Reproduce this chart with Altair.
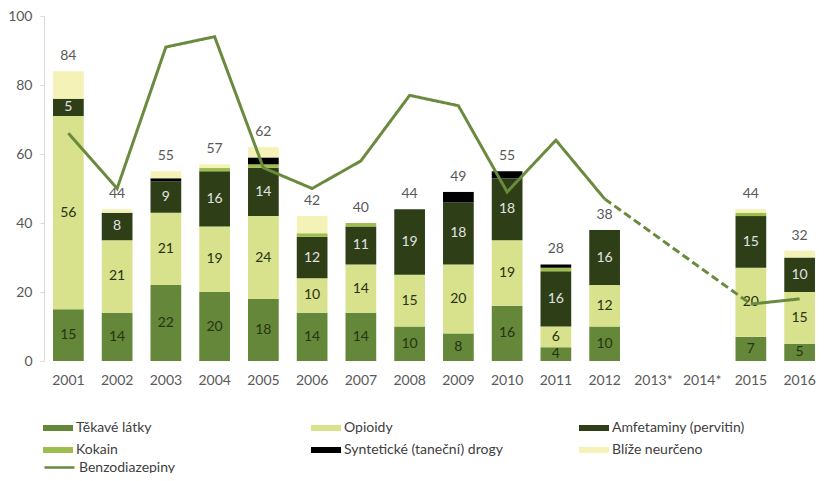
import altair as alt
import pandas as pd

years = ["2001", "2002", "2003", "2004", "2005", "2006", "2007", "2008",
         "2009", "2010", "2011", "2012", "2013*", "2014*", "2015", "2016"]

series = ["Těkavé látky", "Opioidy", "Amfetaminy (pervitin)", "Kokain",
          "Syntetické (taneční) drogy", "Blíže neurčeno"]
line_name = "Benzodiazepiny"

tekave = [15, 14, 22, 20, 18, 14, 14, 10, 8, 16, 4, 10, 0, 0, 7, 5]
opioidy = [56, 21, 21, 19, 24, 10, 14, 15, 20, 19, 6, 12, 0, 0, 20, 15]
amfetaminy = [5, 8, 9, 16, 14, 12, 11, 19, 18, 18, 16, 16, 0, 0, 15, 10]
kokain = [0, 0, 0, 1, 1, 1, 1, 0, 0, 0, 1, 0, 0, 0, 1, 0]
synteticke = [0, 0, 1, 0, 2, 0, 0, 0, 3, 2, 1, 0, 0, 0, 0, 0]
blize = [8, 1, 2, 1, 3, 5, 0, 0, 0, 0, 0, 0, 0, 0, 1, 2]
totals = [84, 44, 55, 57, 62, 42, 40, 44, 49, 55, 28, 38, None, None, 44, 32]

benzo_years_a = ["2001", "2002", "2003", "2004", "2005", "2006", "2007",
                 "2008", "2009", "2010", "2011", "2012"]
benzo_a = [66, 50, 91, 94, 56, 50, 58, 77, 74, 49, 64, 47]
benzo_years_b = ["2015", "2016"]
benzo_b = [16.5, 18]

bar_colors = ["#64873a", "#d8e18c", "#2e3f17", "#9dbd4c", "#000000", "#f4f2b6"]
line_color = "#6a8a3e"

# ---- build tables ----
rows = []
for s_i, (name, vals) in enumerate(zip(series, [tekave, opioidy, amfetaminy, kokain, synteticke, blize])):
    for y, v in zip(years, vals):
        if v > 0:
            rows.append({"year": y, "series": name, "value": v, "order": s_i})
bars_df = pd.DataFrame(rows)

tot_df = pd.DataFrame([{"year": y, "total": t} for y, t in zip(years, totals) if t is not None])

line_rows = []
for y, v in zip(benzo_years_a, benzo_a):
    line_rows.append({"year": y, "value": v, "seg": "a", "dash": "solid", "series": line_name})
line_rows.append({"year": benzo_years_a[-1], "value": benzo_a[-1], "seg": "b", "dash": "dashed", "series": line_name})
line_rows.append({"year": benzo_years_b[0], "value": benzo_b[0], "seg": "b", "dash": "dashed", "series": line_name})
for y, v in zip(benzo_years_b, benzo_b):
    line_rows.append({"year": y, "value": v, "seg": "c", "dash": "solid", "series": line_name})
line_df = pd.DataFrame(line_rows)

FONT = "Lato"
ROW0 = 397
ROWSTEP = 19

bar_legend = alt.Legend(
    title=None, orient="none", legendX=-1, legendY=ROW0, columns=3,
    direction="horizontal",
    gridAlign="all", columnPadding=76, rowPadding=-5.5, padding=0,
    symbolType="M-1,-0.2H1V0.2H-1Z", symbolSize=900, symbolStrokeWidth=0,
    labelFont=FONT, labelFontSize=14, labelColor="#404040", labelOffset=3,
)
line_legend = alt.Legend(
    title=None, orient="none", legendX=-1, legendY=ROW0 + 2 * ROWSTEP, padding=0,
    symbolType="M-1,0H1", symbolSize=900, symbolStrokeWidth=2.5,
    labelFont=FONT, labelFontSize=14, labelColor="#404040", labelOffset=3,
)

x_enc = alt.X("year:N", sort=years,
              scale=alt.Scale(domain=years, paddingInner=0.37, paddingOuter=0.185),
              axis=alt.Axis(title=None, domain=False, ticks=False, labelPadding=12,
                            labelFont=FONT, labelFontSize=14, labelColor="#595959",
                            labelAngle=0))

y_scale = alt.Scale(domain=[0, 100], nice=False)
y_axis = alt.Axis(title=None, values=[0, 20, 40, 60, 80, 100], grid=False,
                  domainColor="#d9d9d9", tickColor="#d9d9d9", tickSize=4,
                  labelPadding=8, labelFont=FONT, labelFontSize=14,
                  labelColor="#595959")

stacked = alt.Chart(bars_df).transform_stack(
    stack="value", groupby=["year"], as_=["y0", "y1"],
    sort=[alt.SortField("order", order="ascending")]
).transform_calculate(ymid="(datum.y0 + datum.y1) / 2")

bars = stacked.mark_bar().encode(
    x=x_enc,
    y=alt.Y("y0:Q", scale=y_scale, axis=y_axis),
    y2="y1:Q",
    color=alt.Color("series:N", scale=alt.Scale(domain=series, range=bar_colors), legend=bar_legend),
)

seg_labels = stacked.transform_filter(
    alt.FieldOneOfPredicate(field="series", oneOf=series[:3])
).mark_text(font=FONT, fontSize=14, baseline="middle").encode(
    x=alt.X("year:N", sort=years),
    y=alt.Y("ymid:Q"),
    text=alt.Text("value:Q"),
    color=alt.when(alt.datum.series == "Amfetaminy (pervitin)")
            .then(alt.value("#e2e2e2")).otherwise(alt.value("#28330f")),
)

line = alt.Chart(line_df).mark_line(strokeWidth=3).encode(
    x=alt.X("year:N", sort=years),
    y=alt.Y("value:Q"),
    stroke=alt.Stroke("series:N", scale=alt.Scale(domain=[line_name], range=[line_color]), legend=line_legend),
    detail="seg:N",
    strokeDash=alt.StrokeDash("dash:N", scale=alt.Scale(domain=["solid", "dashed"], range=[[1, 0], [8, 4]]), legend=None),
)

tot_text = alt.Chart(tot_df).mark_text(font=FONT, fontSize=14, baseline="bottom", dy=-8, color="#595959").encode(
    x=alt.X("year:N", sort=years),
    y=alt.Y("total:Q"),
    text=alt.Text("total:Q"),
)

chart = alt.layer(bars, seg_labels, line, tot_text).properties(
    width=780, height=345,
    padding={"left": 36, "top": 8, "right": 0, "bottom": 112},
    autosize=alt.AutoSizeParams(type="none"),
).resolve_scale(color="independent", stroke="independent").configure_view(stroke=None)

chart.save("out.html", embed_options={"renderer": "svg", "actions": False})
